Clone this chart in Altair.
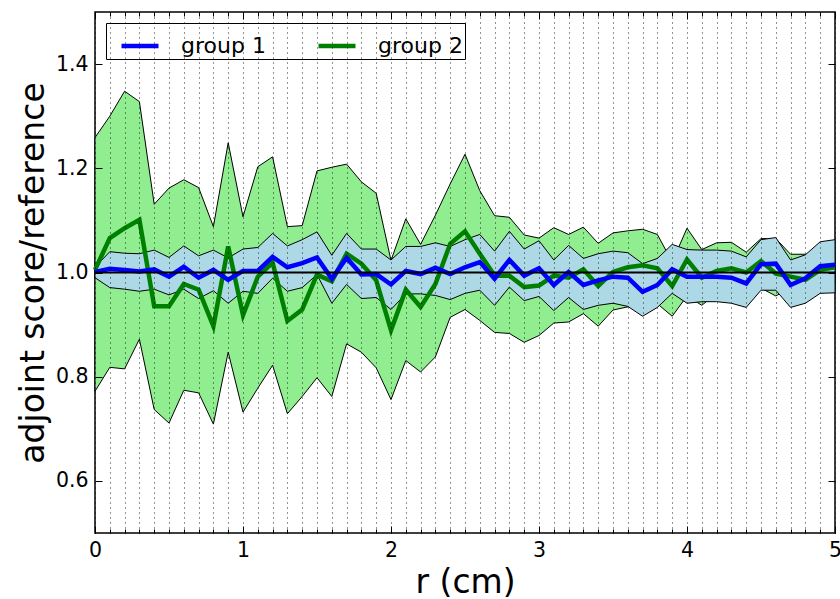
import altair as alt
import pandas as pd

FONT = "DejaVu Sans"

r_cm = [0.0, 0.1, 0.2, 0.3, 0.4, 0.5, 0.6, 0.7, 0.8, 0.9,
        1.0, 1.1, 1.2, 1.3, 1.4, 1.5, 1.6, 1.7, 1.8, 1.9,
        2.0, 2.1, 2.2, 2.3, 2.4, 2.5, 2.6, 2.7, 2.8, 2.9,
        3.0, 3.1, 3.2, 3.3, 3.4, 3.5, 3.6, 3.7, 3.8, 3.9,
        4.0, 4.1, 4.2, 4.3, 4.4, 4.5, 4.6, 4.7, 4.8, 4.9, 5.0]

group1_mean = [1.001, 1.007, 1.005, 1.002, 1.006, 0.992, 1.011, 0.990, 1.005, 0.986,
               1.003, 1.003, 1.030, 1.010, 1.018, 1.029, 0.988, 1.028, 0.996, 0.997,
               0.977, 1.003, 0.997, 1.009, 0.997, 1.010, 1.020, 0.988, 1.024, 0.994,
               1.008, 0.976, 1.001, 0.976, 0.985, 0.992, 0.990, 0.963, 0.976, 1.006,
               0.992, 0.992, 0.992, 0.990, 0.979, 1.016, 1.017, 0.976, 0.989, 1.012, 1.015]
group1_hi = [1.010, 1.040, 1.037, 1.036, 1.043, 1.029, 1.051, 1.032, 1.043, 1.028,
             1.045, 1.048, 1.075, 1.051, 1.063, 1.078, 1.033, 1.075, 1.045, 1.045,
             1.024, 1.050, 1.050, 1.057, 1.050, 1.063, 1.073, 1.041, 1.079, 1.045,
             1.061, 1.024, 1.052, 1.027, 1.036, 1.041, 1.038, 1.017, 1.027, 1.054,
             1.044, 1.043, 1.043, 1.041, 1.030, 1.063, 1.067, 1.024, 1.034, 1.059, 1.063]
group1_lo = [0.990, 0.971, 0.968, 0.964, 0.968, 0.957, 0.968, 0.950, 0.965, 0.941,
             0.964, 0.960, 0.989, 0.964, 0.971, 0.996, 0.941, 0.977, 0.950, 0.952,
             0.929, 0.959, 0.959, 0.956, 0.948, 0.960, 0.966, 0.937, 0.972, 0.946,
             0.954, 0.927, 0.952, 0.929, 0.937, 0.941, 0.935, 0.916, 0.933, 0.960,
             0.941, 0.944, 0.944, 0.941, 0.933, 0.966, 0.966, 0.933, 0.941, 0.960, 0.961]

group2_mean = [1.005, 1.066, 1.085, 1.101, 0.935, 0.935, 0.978, 0.967, 0.897, 1.050,
               0.918, 0.992, 1.019, 0.907, 0.929, 0.996, 0.983, 1.036, 1.017, 0.985,
               0.889, 0.967, 0.934, 0.978, 1.055, 1.079, 1.036, 0.994, 0.994, 0.972,
               0.975, 0.994, 0.990, 1.006, 0.974, 1.001, 1.010, 1.014, 1.008, 0.974,
               1.025, 0.990, 1.003, 1.008, 1.000, 1.022, 0.998, 0.992, 0.986, 1.005, 1.010]
group2_hi = [1.259, 1.300, 1.348, 1.328, 1.131, 1.162, 1.178, 1.163, 1.088, 1.249,
             1.107, 1.203, 1.222, 1.088, 1.090, 1.195, 1.202, 1.208, 1.174, 1.152,
             1.023, 1.103, 1.054, 1.110, 1.170, 1.227, 1.157, 1.109, 1.106, 1.072,
             1.066, 1.086, 1.073, 1.087, 1.056, 1.076, 1.080, 1.083, 1.073, 1.020,
             1.085, 1.044, 1.057, 1.058, 1.039, 1.065, 1.065, 1.035, 1.035, 1.020, 1.010]
group2_lo = [0.772, 0.818, 0.815, 0.872, 0.737, 0.711, 0.774, 0.769, 0.709, 0.847,
             0.732, 0.778, 0.822, 0.729, 0.762, 0.798, 0.762, 0.863, 0.847, 0.817,
             0.756, 0.831, 0.809, 0.838, 0.914, 0.929, 0.908, 0.885, 0.883, 0.866,
             0.879, 0.903, 0.905, 0.921, 0.897, 0.928, 0.934, 0.947, 0.940, 0.916,
             0.955, 0.937, 0.960, 0.965, 0.965, 0.970, 0.955, 0.970, 0.965, 0.975, 0.980]

series_names = ["group 1", "group 2"]
series_colors = ["#0000ff", "#008000"]

x_major = [0, 1, 2, 3, 4, 5]
y_major = [0.6, 0.8, 1.0, 1.2, 1.4]

df = pd.DataFrame({
    "r": r_cm,
    "g1": group1_mean, "g1_hi": group1_hi, "g1_lo": group1_lo,
    "g2": group2_mean, "g2_hi": group2_hi, "g2_lo": group2_lo,
})
df_g1 = pd.DataFrame({"r": r_cm, "value": group1_mean, "series": series_names[0]})
df_g2 = pd.DataFrame({"r": r_cm, "value": group2_mean, "series": series_names[1]})

xs = alt.Scale(domain=[0, 5], nice=False, zero=False)
ys = alt.Scale(domain=[0.5, 1.5], nice=False, zero=False)

common = dict(domain=False, tickColor="black", tickWidth=1, labelFlush=False,
              labelFont=FONT, titleFont=FONT, labelColor="black", titleColor="black",
              zindex=1)

ax_x_grid = alt.Axis(orient="bottom", values=r_cm, grid=True, gridColor="black",
                     gridDash=[1, 4], gridWidth=1, gridOpacity=0.85, ticks=False, labels=False,
                     title="r (cm)", titleFontSize=33, titleFontWeight="normal",
                     titleY=59, titleBaseline="alphabetic", **common)
ax_x_major = alt.Axis(orient="bottom", values=x_major, grid=False, tickSize=7, offset=-7,
                      labelPadding=7, labelFontSize=20.5, format="d", title=None, **common)
ax_x_minor = alt.Axis(orient="bottom", values=r_cm, grid=False, tickSize=4, offset=-4,
                      labels=False, title=None, **common)
ax_x_top_major = alt.Axis(orient="top", values=x_major, grid=False, tickSize=7, offset=-7,
                          labels=False, title=None, **common)
ax_x_top_minor = alt.Axis(orient="top", values=r_cm, grid=False, tickSize=4, offset=-4,
                          labels=False, title=None, **common)

ax_y_left = alt.Axis(orient="left", values=y_major, grid=False, tickSize=7, offset=-7,
                     labelPadding=7, labelFontSize=20.5, format=".1f", title=None, **common)
ax_y_right = alt.Axis(orient="right", values=y_major, grid=False, tickSize=7, offset=-7,
                      labels=False, title=None, **common)
ax_y_title = alt.Axis(orient="left", values=y_major, grid=False, ticks=False, labels=False,
                      title="adjoint score/reference", titleFontSize=33,
                      titleFontWeight="normal", titleAngle=-90, titleX=-52,
                      titleBaseline="alphabetic", **common)

legend = alt.Legend(orient="none", legendX=11, legendY=11, direction="horizontal",
                    title=None, symbolType="stroke", symbolSize=1369, symbolStrokeWidth=4.5,
                    symbolOffset=11,
                    labelFont=FONT, labelFontSize=22, labelColor="black", labelOffset=20,
                    labelExpr="datum.label + '   '",
                    columnPadding=39, padding=2, strokeColor="black", fillColor="white",
                    cornerRadius=0, labelLimit=0)
color = alt.Color("series:N", scale=alt.Scale(domain=series_names, range=series_colors),
                  legend=legend)

green_band = alt.Chart(df).mark_area(color="#90ee90", stroke="black", strokeWidth=1,
                                     opacity=1).encode(
    x=alt.X("r:Q", scale=xs, axis=ax_x_grid),
    y=alt.Y("g2_lo:Q", scale=ys, axis=ax_y_left),
    y2="g2_hi:Q",
)
blue_band = alt.Chart(df).mark_area(color="#add8e6", stroke="black", strokeWidth=1,
                                    opacity=1).encode(
    x=alt.X("r:Q", scale=xs, axis=ax_x_major),
    y=alt.Y("g1_lo:Q", scale=ys, axis=ax_y_right),
    y2="g1_hi:Q",
)
green_line = alt.Chart(df_g2).mark_line(strokeWidth=4.5).encode(
    x=alt.X("r:Q", scale=xs, axis=ax_x_minor),
    y=alt.Y("value:Q", scale=ys, axis=ax_y_title),
    color=color,
)
blue_line = alt.Chart(df_g1).mark_line(strokeWidth=4.5).encode(
    x=alt.X("r:Q", scale=xs, axis=ax_x_top_major),
    y=alt.Y("value:Q", scale=ys, axis=None),
    color=color,
)
ref_line = alt.Chart(df).mark_line(color="black", strokeWidth=2).encode(
    x=alt.X("r:Q", scale=xs, axis=ax_x_top_minor),
    y=alt.Y(datum=1.0, scale=ys, axis=None),
)

chart = alt.layer(green_band, blue_band, green_line, blue_line, ref_line).resolve_axis(
    x="independent", y="independent"
).properties(
    width=740, height=521,
    autosize=alt.AutoSizeParams(type="none"),
    padding={"left": 95, "top": 12, "right": 5, "bottom": 66},
    background="white",
).configure_view(stroke="black", strokeWidth=1.5)

chart.save("out.html", embed_options={"renderer": "svg", "actions": False})
